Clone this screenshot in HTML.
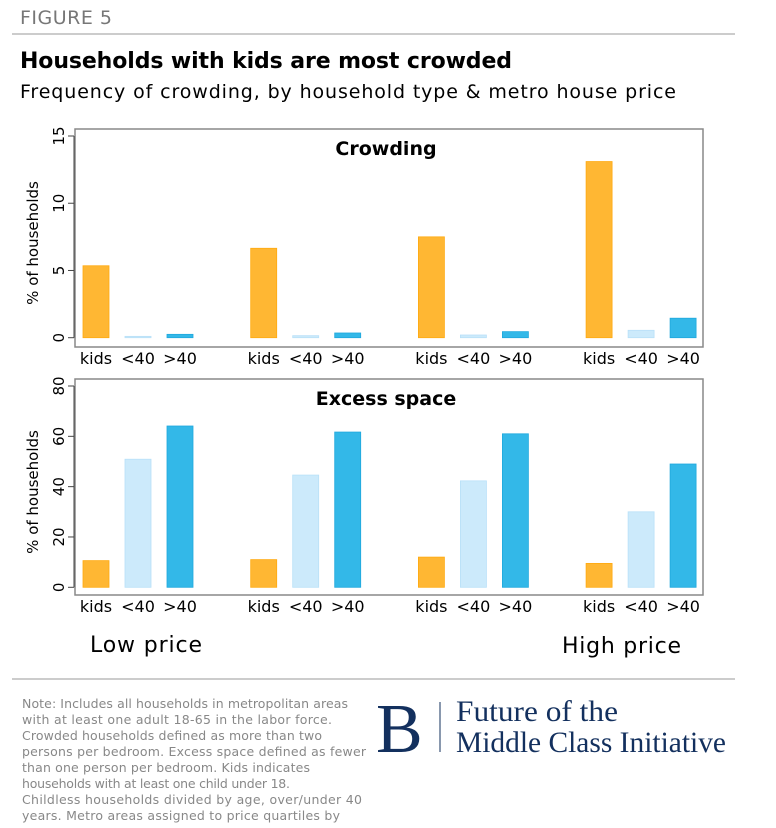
<!DOCTYPE html>
<html><head><meta charset="utf-8"><style>
html,body{margin:0;padding:0;background:#fff;}
svg{display:block;font-family:"DejaVu Sans","Liberation Sans",sans-serif;}
</style></head><body>
<svg id="fig" width="776" height="828" viewBox="0 0 776 828" xmlns="http://www.w3.org/2000/svg">
<text x="20" y="24" font-size="19" fill="#777" textLength="92">FIGURE 5</text>
<line x1="12" y1="34" x2="735" y2="34" stroke="#bbb" stroke-width="1.5"/>
<text x="20" y="68" font-size="22" font-weight="bold" fill="#000" textLength="492">Households with kids are most crowded</text>
<text x="20" y="98" font-size="19" fill="#000" textLength="656">Frequency of crowding,  by household type &amp; metro house price</text>
<g id="panels"></g>
<text x="90" y="652" font-size="22" fill="#000" textLength="112">Low price</text>
<text x="562" y="653" font-size="22" fill="#000" textLength="119">High price</text>
<line x1="12" y1="679" x2="735" y2="679" stroke="#bbb" stroke-width="1.5"/>
<g font-size="12.5" fill="#888">
<text x="22" y="708" textLength="326">Note: Includes all households in metropolitan areas</text>
<text x="22" y="724" textLength="310">with at least one adult 18-65 in the labor force.</text>
<text x="22" y="740" textLength="300">Crowded households defined as more than two</text>
<text x="22" y="756" textLength="344">persons per bedroom. Excess space defined as fewer</text>
<text x="22" y="772" textLength="288">than one person per bedroom. Kids indicates</text>
<text x="22" y="788" textLength="268">households with at least one child under 18.</text>
<text x="22" y="804" textLength="340">Childless households divided by age, over/under 40</text>
<text x="22" y="820" textLength="318">years. Metro areas assigned to price quartiles by</text>
</g>
<g>
<text x="376" y="752" font-family="Liberation Serif,serif" font-size="70" fill="#13305e">B</text>
<line x1="440" y1="702" x2="440" y2="752" stroke="#13305e" stroke-width="1"/>
<text x="456" y="721" font-family="Liberation Serif,serif" font-size="30" fill="#13305e" textLength="162" lengthAdjust="spacingAndGlyphs">Future of the</text>
<text x="456" y="752" font-family="Liberation Serif,serif" font-size="30" fill="#13305e" textLength="270" lengthAdjust="spacingAndGlyphs">Middle Class Initiative</text>
</g>
</svg>
<script>
const groups = ["Low","Q2","Q3","High"];
const types = ["kids","<40",">40"];
const crowdKids = [5.35, 6.65, 7.5, 13.1];
const crowdYoung = [0.1, 0.15, 0.2, 0.55];
const crowdOld = [0.25, 0.35, 0.45, 1.45];
const excessKids = [10.6, 11, 12, 9.5];
const excessYoung = [50.9, 44.6, 42.3, 30];
const excessOld = [64.1, 61.7, 61, 49];
const crowdTicks = [0,5,10,15];
const excessTicks = [0,20,40,60,80];

const NS = "http://www.w3.org/2000/svg";
const root = document.getElementById('panels');
const colors = ["#ffb733","#cceafb","#33b8e8"];
const strokes = ["#ffaa10","#b8e0f8","#1fa8dd"];
function mk(tag, attrs, parent){const e=document.createElementNS(NS,tag);for(const k in attrs)e.setAttribute(k,attrs[k]);parent.appendChild(e);return e;}

function panel(name, title, series, ticks, boxTop, boxBot, y0px, ymaxPx, ymax){
  const g = mk('g',{},root);
  
  
  const yS = v => y0px - v*(y0px-ymaxPx)/ymax;
  const xS = (gi, ti) => 83 + gi*167.7 + ti*42;
  const box = mk('rect',{x:75,y:boxTop,width:628,height:boxBot-boxTop,fill:'none',stroke:'#888','stroke-width':1.5},g);
  
  
  mk('line',{x1:74,y1:yS(ticks[0]),x2:74,y2:yS(ticks[ticks.length-1]),stroke:'#444','stroke-width':1},g);
  ticks.forEach(t=>{
    const y=yS(t);
    mk('line',{x1:68,y1:y,x2:74,y2:y,stroke:'#444','stroke-width':1},g);
    const tx=mk('text',{x:0,y:0,'font-size':15,fill:'#000','text-anchor':'middle',transform:`translate(64,${y}) rotate(-90)`},g);
    tx.textContent=t;
    
    
  });
  const yt=mk('text',{x:0,y:0,'font-size':15,fill:'#000','text-anchor':'middle',transform:`translate(38,${(boxTop+boxBot)/2+5}) rotate(-90)`},g);
  yt.textContent='% of households';
  
  
  const tt=mk('text',{x:386,y:boxTop+26,'font-size':19,'font-weight':'bold',fill:'#000','text-anchor':'middle'},g);
  tt.textContent=title;
  
  
  groups.forEach((gr,gi)=>{
    series.forEach((arr,ti)=>{
      const x=xS(gi,ti), y=yS(arr[gi]);
      const r=mk('rect',{x:x,y:y,width:26,height:Math.max(0.5,y0px-y),fill:colors[ti],stroke:strokes[ti],'stroke-width':0.8},g);
      
      
      const lb=mk('text',{x:x+13,y:boxBot+17,'font-size':16,fill:'#000','text-anchor':'middle'},g);
      lb.textContent=types[ti];
      
      
    });
  });
}
panel('crowding-panel','Crowding',[crowdKids,crowdYoung,crowdOld],crowdTicks,129,347,337.7,136,15);
panel('excess-space-panel','Excess space',[excessKids,excessYoung,excessOld],excessTicks,379,595,587.3,386,80);
</script>
</body></html>
